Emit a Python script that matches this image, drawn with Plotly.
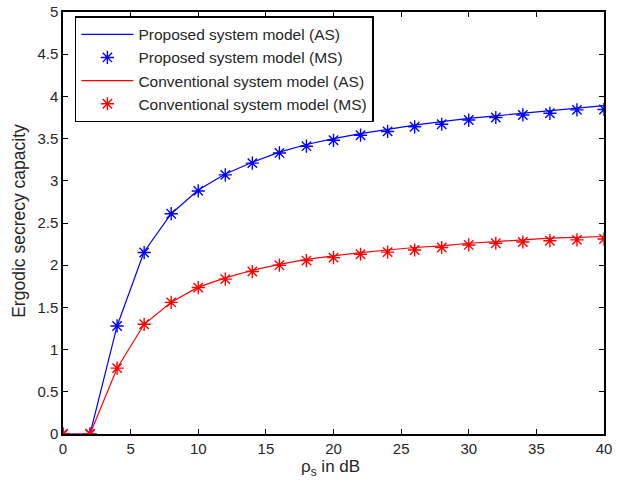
import plotly.graph_objects as go

rho_db = [0, 2, 4, 6, 8, 10, 12, 14, 16, 18, 20, 22, 24, 26, 28, 30, 32, 34, 36, 38, 40]

proposed_as = [0, 0, 1.28, 2.16, 2.61, 2.89, 3.08, 3.22, 3.34, 3.43, 3.50, 3.56, 3.61,
               3.66, 3.70, 3.74, 3.77, 3.80, 3.83, 3.86, 3.89]
proposed_ms = [0, 0, 1.28, 2.15, 2.61, 2.88, 3.07, 3.21, 3.33, 3.41, 3.48, 3.54, 3.585,
               3.64, 3.67, 3.72, 3.75, 3.78, 3.80, 3.84, 3.845]
conventional_as = [0, 0, 0.78, 1.30, 1.56, 1.74, 1.85, 1.94, 2.01, 2.07, 2.11, 2.15, 2.18,
                   2.21, 2.23, 2.26, 2.28, 2.30, 2.32, 2.33, 2.34]
conventional_ms = [0, 0, 0.78, 1.30, 1.56, 1.735, 1.835, 1.925, 2.00, 2.055, 2.09, 2.13, 2.155,
                   2.18, 2.21, 2.24, 2.26, 2.275, 2.29, 2.30, 2.31]

x_ticks = [0, 5, 10, 15, 20, 25, 30, 35, 40]
y_ticks = [0, 0.5, 1, 1.5, 2, 2.5, 3, 3.5, 4, 4.5, 5]
y_tick_text = ["0", "0.5", "1", "1.5", "2", "2.5", "3", "3.5", "4", "4.5", "5"]

x_title = "ρ<sub>s</sub> in dB"
y_title = "Ergodic secrecy capacity"

BLUE = "#0000ff"
RED = "#ff0000"
TXT = "#262626"
FONT = "Liberation Sans, Arial, sans-serif"

fig = go.Figure()
fig.add_trace(go.Scatter(x=rho_db, y=proposed_as, mode="lines", name="Proposed system model (AS)",
                         line=dict(color=BLUE, width=1.2), legendgroup="a"))
fig.add_trace(go.Scatter(x=rho_db, y=proposed_ms, mode="markers", name="Proposed system model (MS)",
                         marker=dict(symbol="asterisk", size=11, color=BLUE,
                                     line=dict(color=BLUE, width=1.4)), legendgroup="b"))
fig.add_trace(go.Scatter(x=rho_db, y=conventional_as, mode="lines", name="Conventional system model (AS)",
                         line=dict(color=RED, width=1.2), legendgroup="c"))
fig.add_trace(go.Scatter(x=rho_db, y=conventional_ms, mode="markers", name="Conventional system model (MS)",
                         marker=dict(symbol="asterisk", size=11, color=RED,
                                     line=dict(color=RED, width=1.4)), legendgroup="d"))

axis_common = dict(showgrid=False, zeroline=False, showline=True, linecolor="black", linewidth=1.5,
                   mirror="ticks", ticks="inside", ticklen=5, tickcolor="black", tickwidth=1,
                   automargin=False,
                   tickfont=dict(family=FONT, size=15, color=TXT))

fig.update_layout(
    width=617, height=486,
    margin=dict(l=63, r=13, t=12, b=52),
    paper_bgcolor="white", plot_bgcolor="white",
    font=dict(family=FONT, size=15, color=TXT),
    xaxis=dict(range=[0, 40], tickvals=x_ticks, **axis_common),
    yaxis=dict(range=[0, 5], tickvals=y_ticks, ticktext=y_tick_text, **axis_common),
    legend=dict(x=0.022, y=0.99, xanchor="left", yanchor="top",
                bordercolor="black", borderwidth=1.5, bgcolor="white",
                font=dict(family=FONT, size=15.5, color=TXT),
                tracegroupgap=0, itemwidth=52),
    showlegend=True,
    annotations=[
        dict(text=x_title, xref="paper", yref="paper", x=0.494, y=-0.08,
             xanchor="center", yanchor="middle", showarrow=False,
             font=dict(family=FONT, size=17, color=TXT)),
        dict(text=y_title, xref="paper", yref="paper", x=-0.0815, y=0.505,
             xanchor="center", yanchor="middle", showarrow=False, textangle=-90,
             font=dict(family=FONT, size=17.5, color=TXT)),
    ],
)

fig.write_html("out.html", config={"displayModeBar": False},
               post_script="document.body.style.margin='0';document.body.style.overflow='hidden';")
